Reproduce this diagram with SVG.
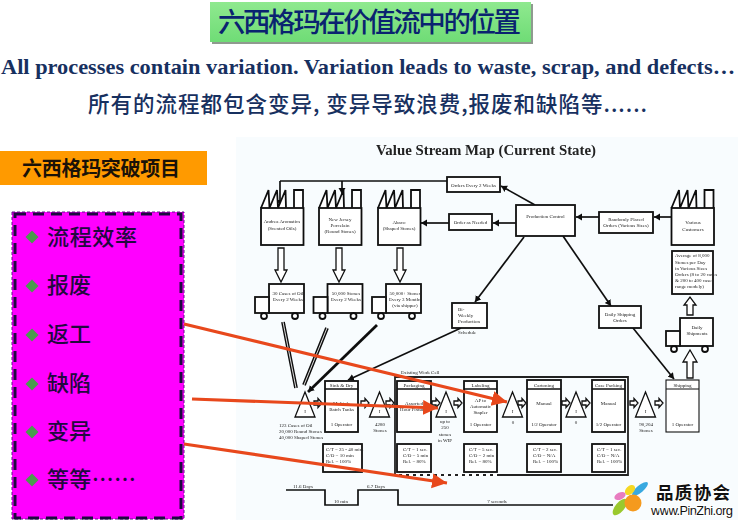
<svg xmlns="http://www.w3.org/2000/svg" xmlns:xlink="http://www.w3.org/1999/xlink" width="738" height="520" viewBox="0 0 738 520">
<style>
.cjk{font-family:"Noto Sans CJK SC","Liberation Sans",sans-serif}
.ser{font-family:"Liberation Serif","Noto Sans CJK SC",serif}
.item{font-size:22px;fill:#22083f;font-weight:500}
.b{fill:#fff;stroke:#111;stroke-width:1.800}
.t{font-family:"Liberation Serif",serif;font-size:5px;fill:#222;text-anchor:middle}
.tl{font-family:"Liberation Serif",serif;font-size:5px;fill:#222}
.h{fill:#fff;stroke:#111;stroke-width:1.300}
.c{fill:none;stroke:#111;stroke-width:1.700}
.r{fill:none;stroke:#e8481c;stroke-width:3.200}
.d{fill:#4b9a4e}
</style>
<defs>
<marker id="ah" markerUnits="userSpaceOnUse" markerWidth="8" markerHeight="8" refX="6" refY="3.5" orient="auto"><path d="M0,0L6,3.5L0,7Z" fill="#111"/></marker>
<marker id="rh" markerUnits="userSpaceOnUse" markerWidth="18" markerHeight="18" refX="15" refY="7.5" orient="auto"><path d="M0,0L15,7.5L0,15Z" fill="#e8481c"/></marker>
<g id="factory"><path class="b" d="M0,0L7.5,-18L8.5,0L16,-18L17,0L24.5,-18L25,0M33,0V-18H42V0"/><rect class="b" x="0" y="0" width="42.5" height="37"/></g>
<g id="truck"><rect class="b" x="0" y="0" width="35" height="29"/><rect class="b" x="-14" y="13" width="14" height="16"/><circle class="b" cx="-5" cy="32" r="3"/><circle class="b" cx="26" cy="32" r="3"/></g>
<path id="dn" class="h" d="M-3,0H3V22H6L0,34L-6,22H-3Z"/>
<path id="pu" class="h" d="M0,-2H4V-4.5L8,0L4,4.5V2H0Z"/>
<g id="tri"><path class="h" d="M0,0L10,25H-10Z"/><text class="t" x="0" y="21">I</text></g>
<filter id="soft" x="-2%" y="-2%" width="104%" height="104%"><feGaussianBlur stdDeviation="0.3"/></filter>
<linearGradient id="grn" x1="0" y1="0" x2="0" y2="1"><stop offset="0" stop-color="#8fe98f"/><stop offset="1" stop-color="#6fdc76"/></linearGradient>
</defs>
<rect width="738" height="520" fill="#fff"/>

<g id="title"><rect x="212" y="4" width="321" height="40" fill="#8f9a8f"/><rect x="210" y="2" width="321" height="40" fill="url(#grn)"/>
<text class="cjk" x="218" y="32" font-size="27.500" font-weight="500" fill="#0a2370" textLength="303" lengthAdjust="spacing">六西格玛在价值流中的位置</text></g>
<text class="ser" x="1" y="74" font-size="22" font-weight="700" fill="#17305f" textLength="734" lengthAdjust="spacingAndGlyphs">All processes contain variation. Variation leads to waste, scrap, and defects…</text>
<text class="cjk" x="88" y="112" font-size="21.500" font-weight="500" fill="#17305f" textLength="559" lengthAdjust="spacing">所有的流程都包含变异, 变异导致浪费,报废和缺陷等......</text>

<g id="header"><rect x="0" y="151" width="207" height="34" fill="#ff9a00"/>
<text class="cjk" x="22" y="176" font-size="20" font-weight="700" fill="#1a1208" textLength="158" lengthAdjust="spacing">六西格玛突破项目</text></g>

<g id="list"><rect x="12" y="212" width="172" height="307" fill="#ff00ff" stroke="#60108a" stroke-width="1" stroke-dasharray="3 2"/>
<rect x="15" y="214" width="166" height="304" fill="none" stroke="#1c0a40" stroke-width="3" stroke-dasharray="11 7"/>
<path class="d" d="M32,230.500l6.500,6.500l-6.500,6.500l-6.500,-6.500Z"/><text class="cjk item" x="47" y="245" textLength="90">流程效率</text>
<path class="d" d="M32,279.500l6.500,6.500l-6.500,6.500l-6.500,-6.500Z"/><text class="cjk item" x="47" y="293" textLength="44">报废</text>
<path class="d" d="M32,328.500l6.500,6.500l-6.500,6.500l-6.500,-6.500Z"/><text class="cjk item" x="47" y="342" textLength="44">返工</text>
<path class="d" d="M32,377.500l6.500,6.500l-6.500,6.500l-6.500,-6.500Z"/><text class="cjk item" x="47" y="391" textLength="44">缺陷</text>
<path class="d" d="M32,425.500l6.500,6.500l-6.500,6.500l-6.500,-6.500Z"/><text class="cjk item" x="47" y="439" textLength="44">变异</text>
<path class="d" d="M32,473.500l6.500,6.500l-6.500,6.500l-6.500,-6.500Z"/><text class="cjk item" x="47" y="487" textLength="89">等等……</text></g>

<g id="vsm" filter="url(#soft)">
<rect x="236" y="137" width="502" height="383" fill="#f8fcfe"/>
<text x="486" y="155" text-anchor="middle" font-family="Liberation Serif,serif" font-size="14" font-weight="700" fill="#222" textLength="220" lengthAdjust="spacingAndGlyphs">Value Stream Map (Current State)</text>

<g id="connectors">
<path class="c" d="M447,181H280"/>
<path class="c" marker-end="url(#ah)" d="M280,181V206"/>
<path class="c" marker-end="url(#ah)" d="M342,181V194"/>
<path class="c" marker-end="url(#ah)" d="M535,205L501,186"/>
<path class="c" marker-end="url(#ah)" d="M516,223H493"/>
<path class="c" marker-end="url(#ah)" d="M449,223H421"/>
<path class="c" marker-end="url(#ah)" d="M599,217H576"/>
<path class="c" marker-end="url(#ah)" d="M672,217H654"/>
<path class="c" marker-end="url(#ah)" d="M524,237L475,302"/>
<path class="c" marker-end="url(#ah)" d="M563,236L611,306"/>
<path class="c" marker-end="url(#ah)" d="M633,328L674,379"/>
<path class="c" marker-end="url(#ah)" d="M461,328L348,380"/>
<path class="c" marker-end="url(#ah)" d="M377,325L308,392" style="stroke-width:2.800"/>
<path d="M283,322L296,388M327,328L304,385" fill="none" stroke="#111" stroke-width="3.800"/>
<path d="M283,322L296,388M327,328L304,385" fill="none" stroke="#ddd" stroke-width="1"/>
<use xlink:href="#dn" href="#dn" transform="translate(281,248)"/>
<use xlink:href="#dn" href="#dn" transform="translate(339,248)"/>
<use xlink:href="#dn" href="#dn" transform="translate(400,248)"/>
<path class="h" d="M687,315H693V305H696L690,297L684,305H687Z"/>
<path class="h" d="M687,378H693V362H697L690,350L683,362H687Z"/>
<use xlink:href="#pu" href="#pu" transform="translate(314,403)"/>
<use xlink:href="#pu" href="#pu" transform="translate(361,403)"/>
<use xlink:href="#pu" href="#pu" transform="translate(386,403)"/>
<use xlink:href="#pu" href="#pu" transform="translate(432,403)"/>
<use xlink:href="#pu" href="#pu" transform="translate(454,403)"/>
<use xlink:href="#pu" href="#pu" transform="translate(518,403)"/>
<use xlink:href="#pu" href="#pu" transform="translate(562,403)"/>
<use xlink:href="#pu" href="#pu" transform="translate(582,403)"/>
<use xlink:href="#pu" href="#pu" transform="translate(630,403)"/>
<use xlink:href="#pu" href="#pu" transform="translate(655,403)"/>
<path class="c" d="M286,490H325V505H358V490H398V505H613"/>
</g>

<g id="andrea"><use xlink:href="#factory" href="#factory" x="261" y="208"/><text class="t" x="282" y="223">Andrea Aromatics</text><text class="t" x="282" y="230">(Scented Oils)</text></g>
<g id="newjersey"><use xlink:href="#factory" href="#factory" x="319" y="208"/><text class="t" x="340" y="221">New Jersey</text><text class="t" x="340" y="227">Porcelain</text><text class="t" x="340" y="233">(Round Stones)</text></g>
<g id="abaco"><use xlink:href="#factory" href="#factory" x="378" y="208"/><text class="t" x="399" y="224">Abaco</text><text class="t" x="399" y="230">(Shaped Stones)</text></g>
<g id="customers"><use xlink:href="#factory" href="#factory" x="671.500" y="208"/><text class="t" x="693" y="224">Various</text><text class="t" x="693" y="231">Customers</text></g>

<g id="truck1"><use xlink:href="#truck" href="#truck" x="269" y="284"/><text class="t" x="288" y="295">30 Cases of Oil</text><text class="t" x="288" y="301">Every 2 Weeks</text></g>
<g id="truck2"><use xlink:href="#truck" href="#truck" x="327.500" y="284"/><text class="t" x="346" y="295">50,000 Stones</text><text class="t" x="346" y="301">Every 2 Weeks</text></g>
<g id="truck3"><use xlink:href="#truck" href="#truck" x="386" y="284"/><text class="t" x="405" y="295">50,000+ Stones</text><text class="t" x="405" y="301">Every 3 Months</text><text class="t" x="405" y="307">(via shipper)</text></g>
<g id="truck4"><rect class="b" x="680" y="318" width="33" height="28"/><rect class="b" x="666" y="331" width="14" height="15"/><circle class="b" cx="674" cy="349" r="3"/><circle class="b" cx="705" cy="349" r="3"/><text class="t" x="697" y="329">Daily</text><text class="t" x="697" y="334.500">Shipments</text></g>

<g id="orders"><rect class="b" x="447" y="177" width="53" height="15"/><text class="t" x="473.500" y="187">Orders Every 2 Weeks</text></g>
<g id="needed"><rect class="b" x="449" y="214" width="43" height="16"/><text class="t" x="470.500" y="224">Order as Needed</text></g>
<g id="control"><rect class="b" x="516" y="205" width="59" height="31"/><text class="t" x="545.500" y="218">Production Control</text></g>
<g id="random"><rect class="b" x="599" y="212" width="54" height="21"/><text class="t" x="626" y="221">Randomly Placed</text><text class="t" x="626" y="227">Orders (Various Sizes)</text></g>
<g id="average"><rect class="b" x="672" y="251" width="41" height="43"/><text class="tl" x="675" y="257">Average of 8,000</text><text class="tl" x="675" y="264">Stones per Day</text><text class="tl" x="675" y="270">in Various Sizes</text><text class="tl" x="675" y="276">Orders (8 to 20 cases</text><text class="tl" x="675" y="282">&amp; 200 to 400 cases</text><text class="tl" x="675" y="288">range modely)</text></g>
<g id="shiporders"><rect class="b" x="599" y="306" width="42" height="22"/><text class="t" x="620" y="316">Daily Shipping</text><text class="t" x="620" y="322">Orders</text></g>
<g id="biweekly"><rect class="b" x="452" y="303" width="35" height="25"/><text class="tl" x="458" y="311">Bi-</text><text class="tl" x="458" y="317">Weekly</text><text class="tl" x="458" y="322.500">Production</text><text class="tl" x="458" y="334">Schedule</text></g>

<g id="cell"><path d="M395,475V377H628V475H395" fill="none" stroke="#222" stroke-width="1.800"/><path d="M395,475H500" stroke="#fff" stroke-width="1.800" stroke-dasharray="4 3"/><text class="tl" x="401" y="374">Existing Work Cell</text></g>

<g id="sink"><rect class="b" x="325" y="381" width="33" height="51"/><path class="c" d="M325,389H358"/><text class="t" x="341.500" y="387">Sink &amp; Dry</text><text class="t" x="341.500" y="405">Multiple</text><text class="t" x="341.500" y="411">Batch Tanks</text><text class="t" x="341.500" y="426">1 Operator</text></g>
<g id="packaging"><rect class="b" x="397" y="381" width="34" height="51"/><path class="c" d="M397,389H431"/><text class="t" x="414" y="387">Packaging</text><text class="t" x="414" y="405">Assorted</text><text class="t" x="414" y="411">Hour Fixtures</text></g>
<g id="labeling"><rect class="b" x="464" y="381" width="33" height="51"/><path class="c" d="M464,389H497"/><text class="t" x="480.500" y="387">Labeling</text><text class="t" x="480.500" y="402">AP to</text><text class="t" x="480.500" y="408">Automatic</text><text class="t" x="480.500" y="414">Stapler</text><text class="t" x="480.500" y="426">1 Operator</text></g>
<g id="cartoning"><rect class="b" x="527" y="380" width="34" height="52"/><path class="c" d="M527,389H561"/><text class="t" x="544" y="387">Cartoning</text><text class="t" x="544" y="405">Manual</text><text class="t" x="544" y="426">1/2 Operator</text></g>
<g id="casepacking"><rect class="b" x="592" y="380" width="33" height="52"/><path class="c" d="M592,389H625"/><text class="t" x="608.500" y="387">Case Packing</text><text class="t" x="608.500" y="405">Manual</text><text class="t" x="608.500" y="426">1/2 Operator</text></g>
<g id="shipping"><rect x="666" y="380" width="33" height="52" fill="#fff" stroke="#111" stroke-width="1.100"/><path d="M666,389H699" stroke="#111" stroke-width="1.100"/><text class="t" x="682.500" y="387">Shipping</text><text class="t" x="682.500" y="426">1 Operator</text></g>

<g id="data1"><rect class="b" x="323" y="444" width="39" height="28"/><text class="tl" x="326" y="451">C/T = 25 - 40 min.</text><text class="tl" x="326" y="457">C/O = 10 min</text><text class="tl" x="326" y="463">Rel. = 100%</text></g>
<g id="data2"><rect class="b" x="397" y="444" width="34" height="28"/><text class="tl" x="403" y="451">C/T = 1 sec.</text><text class="tl" x="403" y="457">C/O = 5 min</text><text class="tl" x="403" y="463">Rel. = 80%</text></g>
<g id="data3"><rect class="b" x="464" y="444" width="33" height="28"/><text class="tl" x="469" y="451">C/T = 5 sec.</text><text class="tl" x="469" y="457">C/O = 2 min</text><text class="tl" x="469" y="463">Rel. = 80%</text></g>
<g id="data4"><rect class="b" x="527" y="444" width="34" height="28"/><text class="tl" x="533" y="451">C/T = 2 sec.</text><text class="tl" x="533" y="457">C/O = N/A</text><text class="tl" x="533" y="463">Rel. = 100%</text></g>
<g id="data5"><rect class="b" x="592" y="444" width="33" height="28"/><text class="tl" x="597" y="451">C/T = 1 sec.</text><text class="tl" x="597" y="457">C/O = N/A</text><text class="tl" x="597" y="463">Rel. = 100%</text></g>

<g id="inv1"><use xlink:href="#tri" href="#tri" x="305" y="392"/><text class="tl" x="279" y="427">123 Cases of Oil</text><text class="tl" x="279" y="433">20,000 Round Stones</text><text class="tl" x="279" y="439">40,000 Shaped Stones</text></g>
<g id="inv2"><use xlink:href="#tri" href="#tri" x="379.500" y="392"/><text class="t" x="380" y="426">4280</text><text class="t" x="380" y="432">Stones</text></g>
<g id="inv3"><use xlink:href="#tri" href="#tri" x="446" y="392"/><text class="t" x="445" y="423">up to</text><text class="t" x="445" y="429">250</text><text class="t" x="445" y="436">stones</text><text class="t" x="445" y="442">in WIP</text></g>
<g id="inv4"><use xlink:href="#tri" href="#tri" x="512.500" y="392"/><text class="t" x="513" y="424">0</text></g>
<g id="inv5"><use xlink:href="#tri" href="#tri" x="576" y="392"/><text class="t" x="576" y="424">0</text></g>
<g id="inv6"><use xlink:href="#tri" href="#tri" x="645.500" y="392"/><text class="t" x="646" y="426">90,204</text><text class="t" x="646" y="432">Stones</text></g>

<g id="timeline"><text class="t" x="303" y="488">11.6 Days</text><text class="t" x="376" y="488">6.7 Days</text><text class="t" x="341" y="503">10 min</text><text class="t" x="497" y="503">7 seconds</text></g>
</g>

<g id="redarrows">
<path class="r" marker-end="url(#rh)" d="M184,324L507,402"/>
<path class="r" marker-end="url(#rh)" d="M192,399L438,408"/>
<path class="r" marker-end="url(#rh)" d="M184,444L447,483"/>
</g>

<g id="logo">
<ellipse cx="640" cy="489" rx="10" ry="3.500" fill="#39a9e0" transform="rotate(-40 640 489)"/>
<ellipse cx="630" cy="490" rx="6" ry="4" fill="#f5d824" transform="rotate(-45 630 490)"/>
<ellipse cx="620" cy="496" rx="6" ry="3.500" fill="#e87cc0" transform="rotate(-25 620 496)"/>
<ellipse cx="620" cy="507" rx="10" ry="4.500" fill="#9ac92e" transform="rotate(-50 620 507)"/>
<circle cx="633" cy="503" r="8.500" fill="#f59a1e"/>
<text class="cjk" x="656" y="499" font-size="17.500" font-weight="700" fill="#111" stroke="#fff" stroke-width="2" paint-order="stroke" textLength="74" lengthAdjust="spacing">品质协会</text>
<text x="651" y="515" font-family="Liberation Sans,sans-serif" font-size="13" fill="#111" stroke="#fff" stroke-width="2" paint-order="stroke" textLength="82" lengthAdjust="spacing">www.PinZhi.org</text>
</g>
</svg>
